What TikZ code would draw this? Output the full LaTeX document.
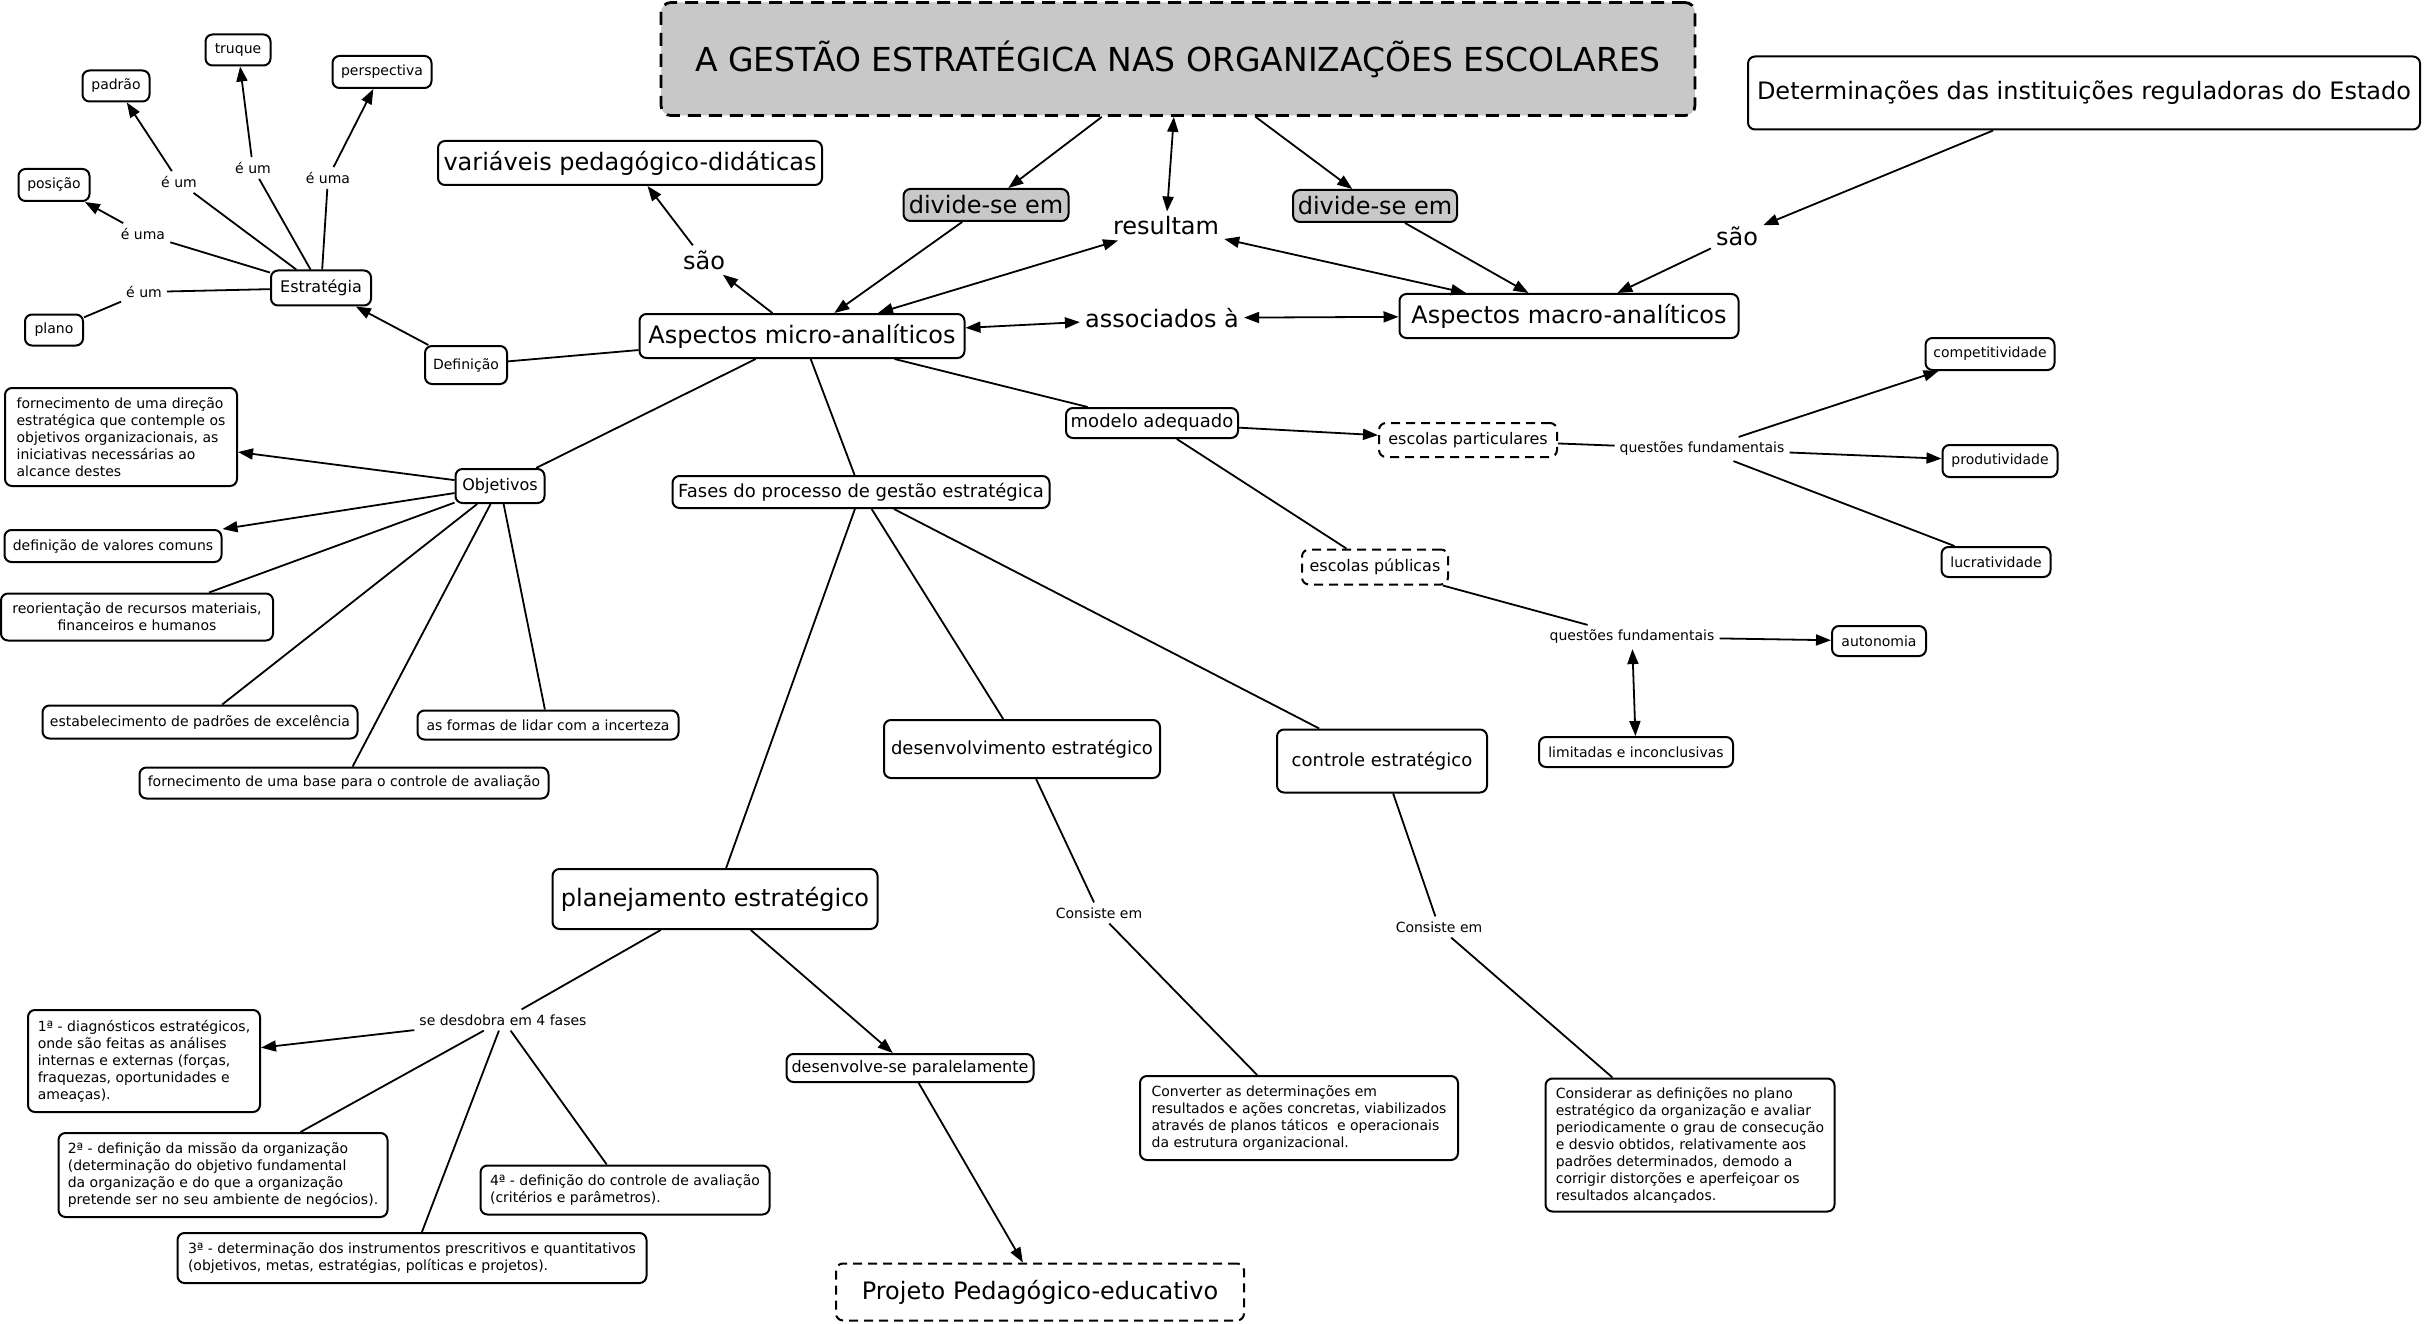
\documentclass[tikz,border=0pt]{standalone}
\usepackage{fontspec}
\setmainfont{DejaVu Sans}
\usetikzlibrary{arrows.meta}
\definecolor{boxgray}{RGB}{200,200,200}
\begin{document}
\begin{tikzpicture}[x=1pt,y=-1pt,
 box/.style={draw, line width=2pt, rounded corners=7pt, fill=white, inner sep=2pt, align=center},
 dbox/.style={box, dash pattern=on 9pt off 6pt},
 lab/.style={inner sep=5pt, align=center},
 fT/.style={font=\fontsize{33}{40}\selectfont},
 fL/.style={font=\fontsize{24}{29}\selectfont},
 fM/.style={font=\fontsize{18}{22}\selectfont},
 fSS/.style={font=\fontsize{16}{19}\selectfont},
 fS/.style={font=\fontsize{14}{17}\selectfont},
 con/.style={line width=1.8pt},
 arr/.style={con, -{Triangle[length=15pt,width=11pt]}},
 darr/.style={con, {Triangle[length=15pt,width=11pt]}-{Triangle[length=15pt,width=11pt]}},
]
\fill[white] (0,0) rectangle (2425,1324);
\useasboundingbox (0,0) rectangle (2425,1324);

% ---------- top ----------
\node[box,fT,fill=boxgray,line width=2.8pt,rounded corners=10pt,dash pattern=on 13pt off 8pt,minimum width=1034pt,minimum height=113pt] (title) at (1178,59) {A GESTÃO ESTRATÉGICA NAS ORGANIZAÇÕES ESCOLARES};
\node[box,fL,minimum width=672pt,minimum height=73pt] (det) at (2084,93) {Determinações das instituições reguladoras do Estado};
\node[box,fL,minimum width=384pt,minimum height=44pt] (var) at (630,163) {variáveis pedagógico-didáticas};
\node[box,fL,fill=boxgray,minimum width=165pt,minimum height=32pt] (divL) at (986,205) {divide-se em};
\node[box,fL,fill=boxgray,minimum width=164pt,minimum height=32pt] (divR) at (1375,206) {divide-se em};
\node[lab,fL] (result) at (1166,226) {resultam};
\node[lab,fL] (saoL) at (704,260) {são};
\node[lab,fL] (saoR) at (1737,236) {são};
\node[box,fL,minimum width=325pt,minimum height=44pt] (micro) at (802,336) {Aspectos micro-analíticos};
\node[lab,fL] (assoc) at (1162,318) {associados à};
\node[box,fL,minimum width=339pt,minimum height=44pt] (macro) at (1569,316) {Aspectos macro-analíticos};

% ---------- left cluster ----------
\node[box,fSS,minimum width=100pt,minimum height=35pt] (estr) at (321,288) {Estratégia};
\node[box,fS,minimum width=65pt,minimum height=31pt] (truque) at (238,50) {truque};
\node[box,fS,minimum width=67pt,minimum height=31pt] (padrao) at (116,86) {padrão};
\node[box,fS,minimum width=99pt,minimum height=32pt] (persp) at (382,72) {perspectiva};
\node[box,fS,minimum width=71pt,minimum height=32pt] (posicao) at (54,185) {posição};
\node[box,fS,minimum width=58pt,minimum height=31pt] (plano) at (54,330) {plano};
\node[box,fS,minimum width=82pt,minimum height=38pt] (defin) at (466,365) {Definição};
\node[lab,fS] (l1) at (179,182) {é um};
\node[lab,fS] (l2) at (253,168) {é um};
\node[lab,fS] (l3) at (328,178) {é uma};
\node[lab,fS] (l4) at (143,234) {é uma};
\node[lab,fS] (l5) at (144,292) {é um};

% ---------- objetivos ----------
\node[box,fSS,minimum width=89pt,minimum height=34pt] (obj) at (500,486) {Objetivos};
\node[box,fS,align=left,minimum width=232pt,minimum height=98pt] (o1) at (121,437) {fornecimento de uma direção\\estratégica que contemple os\\objetivos organizacionais, as\\iniciativas necessárias ao\\alcance destes};
\node[box,fS,minimum width=217pt,minimum height=32pt] (o2) at (113,546) {definição de valores comuns};
\node[box,fS,minimum width=272pt,minimum height=47pt] (o3) at (137,617) {reorientação de recursos materiais,\\financeiros e humanos};
\node[box,fS,minimum width=315pt,minimum height=33pt] (o4) at (200,722) {estabelecimento de padrões de excelência};
\node[box,fS,minimum width=261pt,minimum height=29pt] (o5) at (548,725) {as formas de lidar com a incerteza};
\node[box,fS,minimum width=409pt,minimum height=31pt] (o6) at (344,783) {fornecimento de uma base para o controle de avaliação};

% ---------- middle ----------
\node[box,fM,minimum width=377pt,minimum height=32pt] (fases) at (861,492) {Fases do processo de gestão estratégica};
\node[box,fM,minimum width=172pt,minimum height=30pt] (modelo) at (1152,423) {modelo adequado};
\node[dbox,fSS,minimum width=178pt,minimum height=34pt] (epart) at (1468,440) {escolas particulares};
\node[dbox,fSS,minimum width=146pt,minimum height=35pt] (epub) at (1375,567) {escolas públicas};
\node[box,fM,minimum width=276pt,minimum height=58pt] (desenv) at (1022,749) {desenvolvimento estratégico};
\node[box,fM,minimum width=210pt,minimum height=63pt] (ctrl) at (1382,761) {controle estratégico};

% ---------- right ----------
\node[lab,fS] (q1) at (1702,449) {questões fundamentais};
\node[box,fS,minimum width=129pt,minimum height=32pt] (comp) at (1990,354) {competitividade};
\node[box,fS,minimum width=115pt,minimum height=32pt] (prod) at (2000,461) {produtividade};
\node[box,fS,minimum width=109pt,minimum height=30pt] (lucr) at (1996,562) {lucratividade};
\node[lab,fS] (q2) at (1632,637) {questões fundamentais};
\node[box,fS,minimum width=94pt,minimum height=30pt] (auton) at (1879,641) {autonomia};
\node[box,fS,minimum width=194pt,minimum height=30pt] (limit) at (1636,752) {limitadas e inconclusivas};

% ---------- bottom ----------
\node[box,fL,minimum width=325pt,minimum height=60pt] (plan) at (715,899) {planejamento estratégico};
\node[lab,fS] (desd) at (503,1020) {se desdobra em 4 fases};
\node[box,fS,align=left,minimum width=232pt,minimum height=102pt] (f1) at (144,1061) {1ª - diagnósticos estratégicos,\\onde são feitas as análises\\internas e externas (forças,\\fraquezas, oportunidades e\\ameaças).};
\node[box,fS,align=left,minimum width=329pt,minimum height=84pt] (f2) at (223,1175) {2ª - definição da missão da organização\\(determinação do objetivo fundamental\\da organização e do que a organização\\pretende ser no seu ambiente de negócios).};
\node[box,fS,align=left,minimum width=289pt,minimum height=49pt] (f4) at (625,1190) {4ª - definição do controle de avaliação\\(critérios e parâmetros).};
\node[box,fS,align=left,minimum width=469pt,minimum height=50pt] (f3) at (412,1258) {3ª - determinação dos instrumentos prescritivos e quantitativos\\(objetivos, metas, estratégias, políticas e projetos).};
\node[box,fSS,minimum width=247pt,minimum height=28pt] (desp) at (910,1068) {desenvolve-se paralelamente};
\node[dbox,fL,minimum width=408pt,minimum height=57pt] (proj) at (1040,1292) {Projeto Pedagógico-educativo};
\node[lab,fS] (c1) at (1099,913) {Consiste em};
\node[lab,fS] (c2) at (1439,927) {Consiste em};
\node[box,fS,align=left,minimum width=318pt,minimum height=84pt] (conv) at (1299,1118) {Converter as determinações em\\resultados e ações concretas, viabilizados\\através de planos táticos\ \ e operacionais\\da estrutura organizacional.};
\node[box,fS,align=left,minimum width=289pt,minimum height=133pt] (cons) at (1690,1145) {Considerar as definições no plano\\estratégico da organização e avaliar\\periodicamente o grau de consecução\\e desvio obtidos, relativamente aos\\padrões determinados, demodo a\\corrigir distorções e aperfeiçoar os\\resultados alcançados.};

% ---------- connectors ----------
\draw[arr] (title) -- (divL);
\draw[arr] (divL) -- (micro);
\draw[darr] (title) -- (result);
\draw[darr] (result) -- (micro);
\draw[darr] (result) -- (macro);
\draw[arr] (title) -- (divR);
\draw[arr] (divR) -- (macro);
\draw[arr] (det) -- (saoR);
\draw[arr] (saoR) -- (macro);
\draw[arr] (micro) -- (saoL);
\draw[arr] (saoL) -- (var);
\draw[darr] (micro) -- (assoc);
\draw[darr] (assoc) -- (macro);
\draw[con] (micro) -- (defin);
\draw[arr] (defin) -- (estr);
\draw[con] (estr) -- (l1); \draw[arr] (l1) -- (padrao);
\draw[con] (estr) -- (l2); \draw[arr] (l2) -- (truque);
\draw[con] (estr) -- (l3); \draw[arr] (l3) -- (persp);
\draw[con] (estr) -- (l4); \draw[arr] (l4) -- (posicao);
\draw[con] (estr) -- (l5); \draw[con] (l5) -- (plano);
\draw[con] (micro) -- (obj);
\draw[arr] (obj) -- (o1);
\draw[arr] (obj) -- (o2);
\draw[con] (obj) -- ([xshift=72pt]o3.north);
\draw[con] (obj) -- (o4);
\draw[con] (obj) -- (o5);
\draw[con] (obj) -- (o6);
\draw[con] (micro) -- (fases);
\draw[con] (micro) -- (modelo);
\draw[arr] (modelo) -- (epart);
\draw[con] (modelo) -- (epub);
\draw[con] (epart) -- (q1);
\draw[arr] (q1) -- (comp);
\draw[arr] (q1) -- (prod);
\draw[con] (q1) -- (lucr);
\draw[con] (epub) -- (q2);
\draw[arr] (q2) -- (auton);
\draw[darr] (q2) -- (limit);
\draw[con] (fases) -- (plan);
\draw[con] (fases) -- (desenv);
\draw[con] (fases) -- (ctrl);
\draw[con] (desenv) -- (c1);
\draw[con] (c1) -- (conv);
\draw[con] (ctrl) -- (c2);
\draw[con] (c2) -- (cons);
\draw[con] (plan) -- (desd);
\draw[arr] (desd) -- (f1);
\draw[con] (desd) -- (f2);
\draw[con] (desd) -- (f3);
\draw[con] (desd) -- (f4);
\draw[arr] (plan) -- (desp);
\draw[arr] (desp) -- (proj);
\end{tikzpicture}
\end{document}
